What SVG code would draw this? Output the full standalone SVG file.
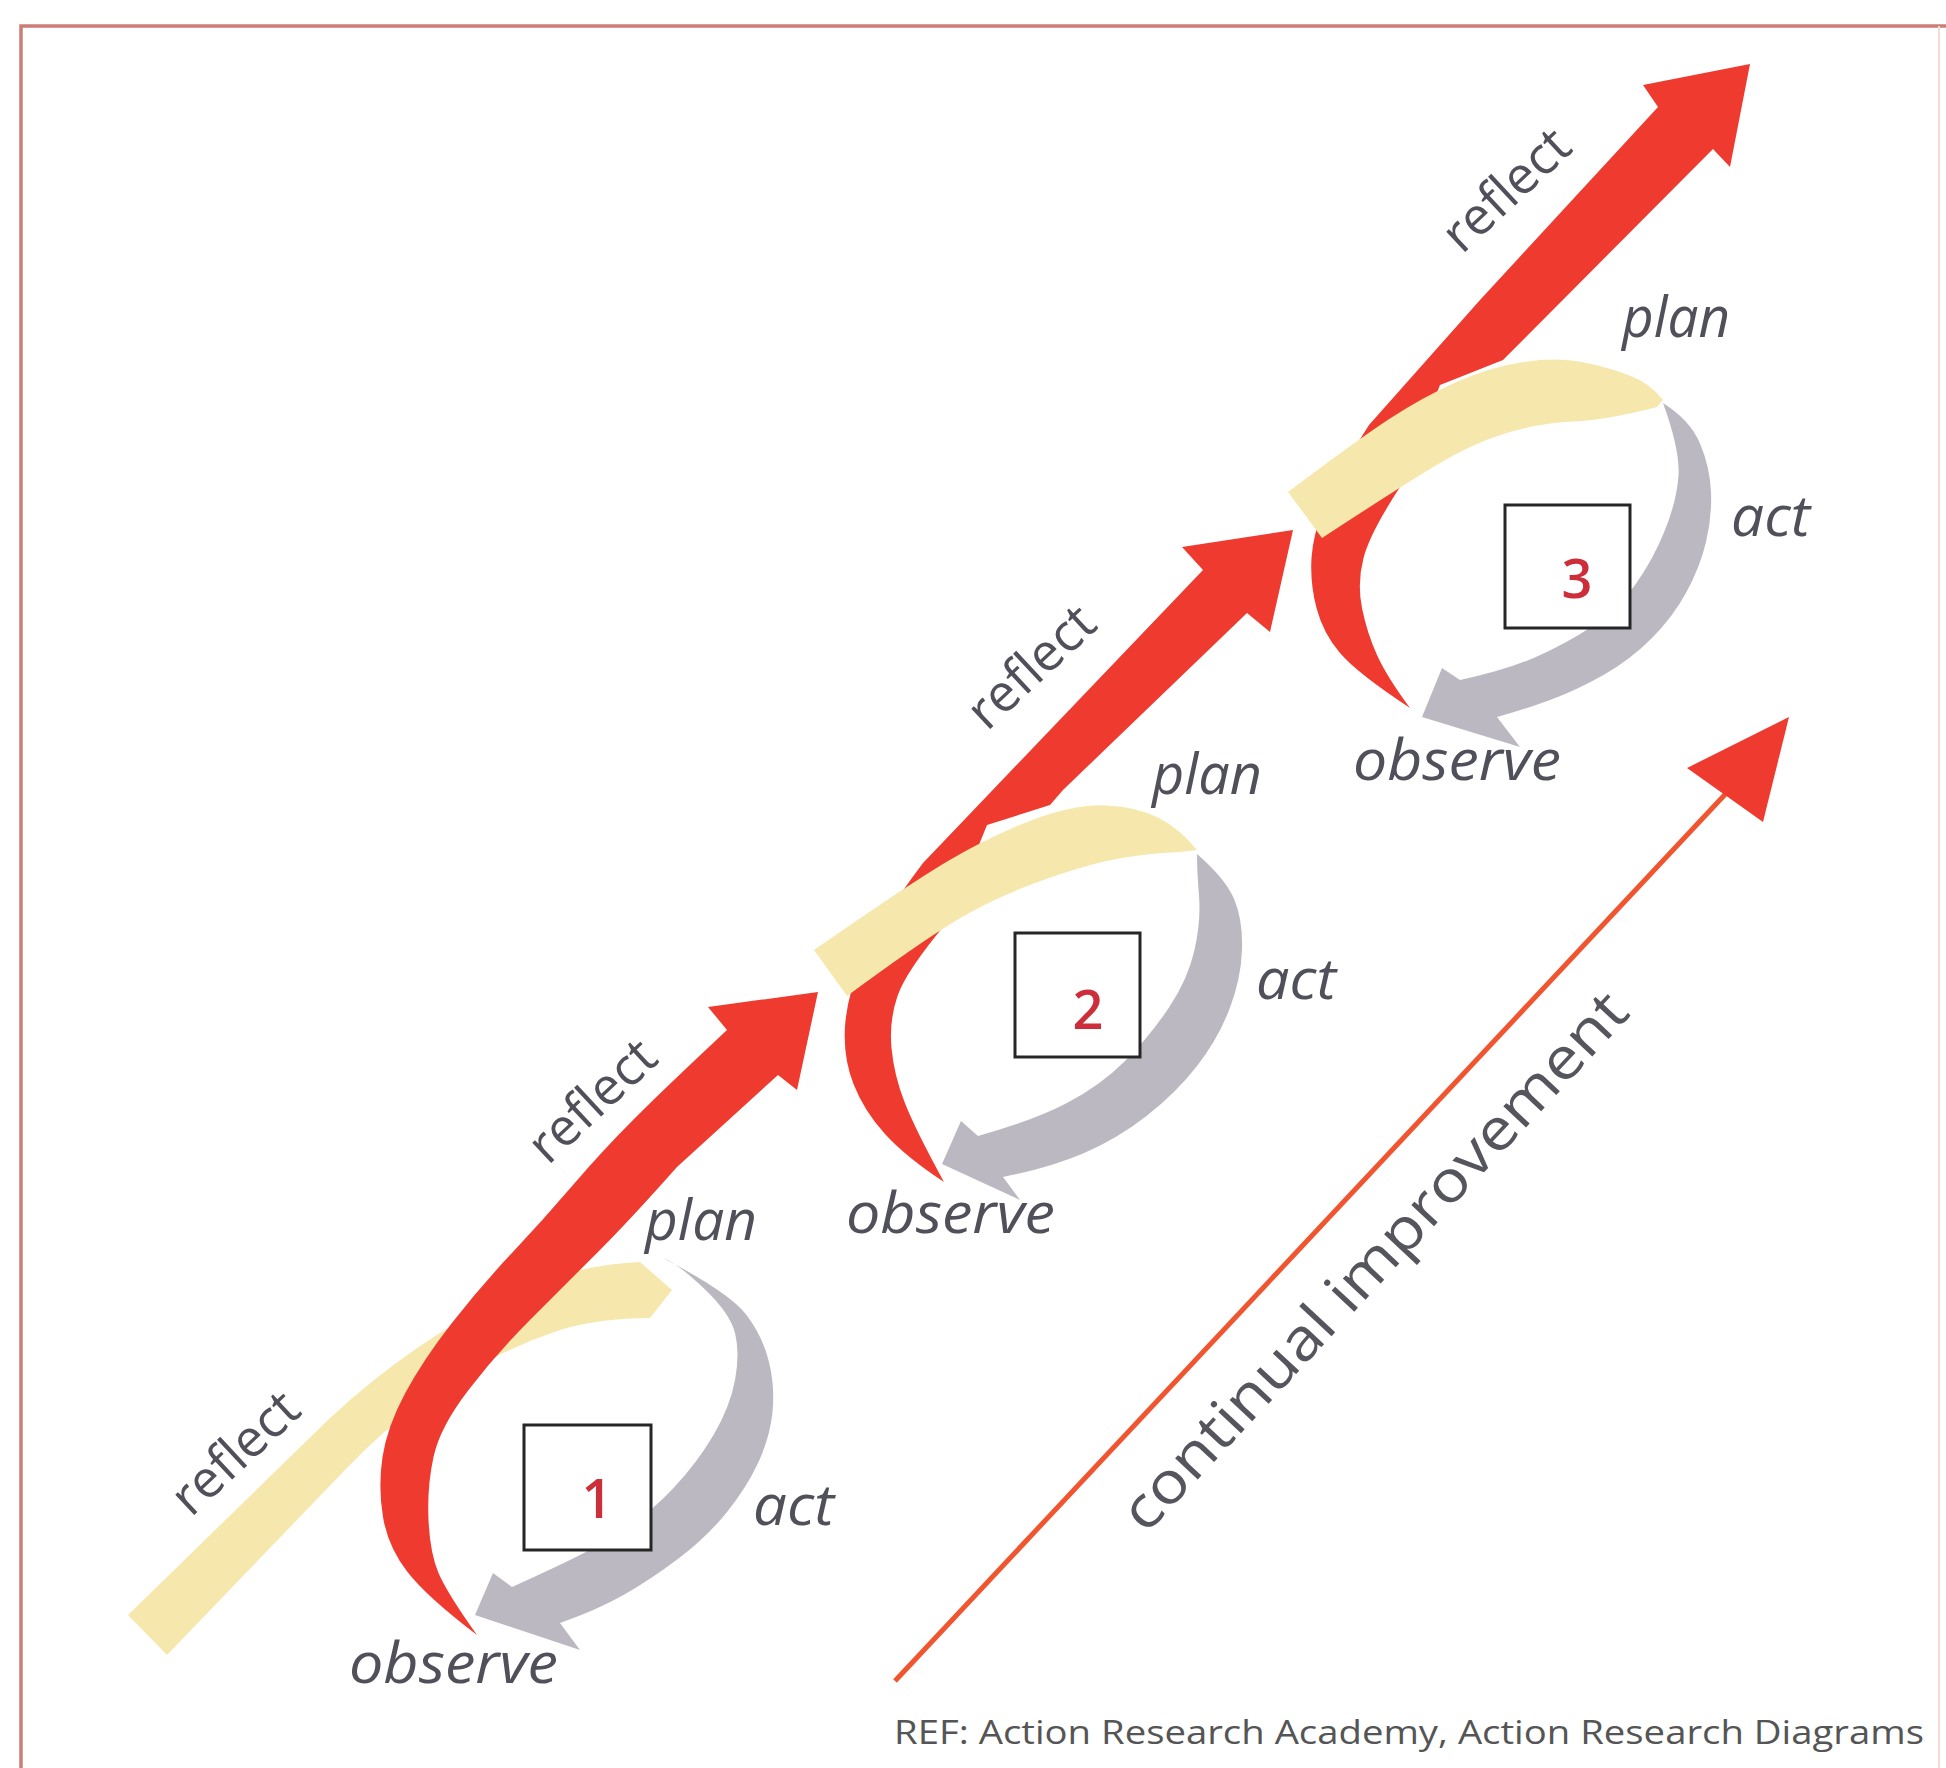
<svg xmlns="http://www.w3.org/2000/svg" width="1946" height="1768" viewBox="0 0 1946 1768">
<style>
.red{fill:#ef3b2f}
.yel{fill:#f6e8ad}
.gry{fill:#bcb8c2}
.box{fill:#ffffff;stroke:#262626;stroke-width:3}
.num{font-family:"Open Sans","Liberation Sans",sans-serif;font-size:54px;font-weight:600;fill:#cc2f3a;text-anchor:middle}
.lbl{font-family:"Open Sans","Liberation Sans",sans-serif;font-style:italic;font-size:57px;fill:#50505a}
.rfl{font-family:"Open Sans","Liberation Sans",sans-serif;font-size:52px;fill:#50505a}
.ci{font-family:"Open Sans","Liberation Sans",sans-serif;font-size:58px;fill:#55555d}
.ref{font-family:"Open Sans","Liberation Sans",sans-serif;font-size:33px;fill:#555555}
</style>
<rect width="1946" height="1768" fill="#ffffff"/>
<g id="frame" fill="none">
<path d="M21,1768 L21,26 L1946,26" stroke="#cd7d76" stroke-width="3.5"/>
<line x1="1939" y1="26" x2="1939" y2="1768" stroke="#f3dcd8" stroke-width="2"/>
</g>
<g id="connectors">
<path id="plan1" class="yel" d="M128,1615 L330,1418 Q420,1335 520,1290 Q575,1265 640,1262 L672,1290 L650,1318 Q600,1318 560,1330 Q440,1370 345,1470 L167,1655 Z"/>
<path id="reflect1" class="red" d="M477,1635 Q427,1597 407.5,1572 Q388,1547 383,1517 Q378,1487 382.5,1457 Q387,1427 405,1393.5 Q423,1360 451.5,1323.5 Q480,1287 511.5,1253.5 Q543,1220 573,1185 Q603,1150 634,1119 Q665,1088 727,1030 L708,1007 L818,992 L797,1090 L778,1075 L677,1167 Q630,1220 596.5,1253.5 Q563,1287 530,1320 Q497,1353 468.5,1390 Q440,1427 433.5,1457 Q427,1487 428.5,1520 Q430,1553 438.5,1573 Q447,1593 477,1635 Z"/>
<path id="reflect2" class="red" d="M944,1182 Q906,1157 885,1134 Q864,1111 853.5,1084 Q843,1057 845,1026.5 Q847,996 862,960 Q877,924 923,863 L1203,570 L1182,547 L1293,530 L1270,632 L1247,613 L1063,790 L1050,805 L987,825 L948,921 Q906,971 897.5,996 Q889,1021 891.5,1048 Q894,1075 904.5,1102 Q915,1129 944,1182 Z"/>
<path id="plan2" class="yel" d="M814,950 Q906,886 948,861 Q990,836 1032.5,820 Q1075,804 1106.5,805.5 Q1138,807 1159,818 Q1180,829 1197,850 L1180,852 Q1138,854 1106.5,861 Q1075,868 1032.5,884 Q990,900 954.5,921.5 Q919,943 847,996 Z"/>
<path id="reflect3" class="red" d="M1410,708 Q1357,673 1340,653 Q1323,633 1316.5,608 Q1310,583 1311.5,558 Q1313,533 1326,502 Q1340,470 1369,425 L1480,300 L1658,107 L1643,85 L1750,64 L1730,167 L1713,149 L1503,360 L1440,385 L1400,487 Q1370,533 1363.5,558 Q1357,583 1362,608 Q1367,633 1377,655 Q1387,677 1410,708 Z"/>
<path id="plan3" class="yel" d="M1288,492 Q1357,440 1390,418.5 Q1423,397 1456.5,382 Q1490,367 1523.5,362 Q1557,357 1582,362 Q1607,367 1628.5,375 Q1650,383 1663,400 L1657,407 Q1607,420 1573.5,421.5 Q1540,423 1506.5,433 Q1473,443 1436.5,465 Q1400,487 1322,538 Z"/>
<path id="act1" class="gry" d="M663,1258 Q730,1293 746.5,1315 Q763,1337 769,1362 Q775,1387 772.5,1412 Q770,1437 758.5,1462 Q747,1487 727,1512 Q707,1537 678.5,1558.5 Q650,1580 623.5,1595 Q597,1610 560,1623 L580,1650 L475,1615 L493,1573 L512,1587 Q543,1573 570,1560 Q597,1547 623.5,1530 Q650,1513 673.5,1488 Q697,1463 713.5,1435 Q730,1407 735,1380 Q740,1353 735,1333 Q730,1313 703.5,1288 Q677,1263 663,1258 Z"/>
<path id="act2" class="gry" d="M1197,854 Q1226,879 1234.5,900 Q1243,921 1242,950 Q1241,979 1229.5,1009 Q1218,1039 1197,1066 Q1176,1093 1146.5,1116 Q1117,1139 1083,1153.5 Q1049,1168 1003,1177 L1020,1200 L942,1164 L961,1121 L978,1136 Q1032,1121 1066,1103.5 Q1100,1086 1125,1061 Q1150,1036 1169,1007.5 Q1188,979 1194.5,950 Q1201,921 1199,896 Q1197,871 1197,854 Z"/>
<path id="act3" class="gry" d="M1663,403 Q1690,420 1700,443.5 Q1710,467 1711,492 Q1712,517 1706,542 Q1700,567 1686.5,592 Q1673,617 1651.5,638.5 Q1630,660 1603.5,675 Q1577,690 1550,700 Q1523,710 1497,717 L1520,747 L1422,717 L1442,668 L1460,680 Q1507,670 1537,656.5 Q1567,643 1592,626.5 Q1617,610 1635,585 Q1653,560 1665,530 Q1677,500 1678.5,475 Q1680,450 1663,403 Z"/>
<g id="improvement">
<line x1="895" y1="1681" x2="1732" y2="787" stroke="#f0552f" stroke-width="5"/>
<polygon points="1789,717 1763,822 1687,768" fill="#ef3b2f"/>
</g>
</g>
<g id="node-1"><rect class="box" x="524" y="1425" width="127" height="125"/><text class="num" x="597" y="1518">1</text></g>
<g id="node-2"><rect class="box" x="1015" y="933" width="125" height="124"/><text class="num" x="1088" y="1029">2</text></g>
<g id="node-3"><rect class="box" x="1505" y="505" width="125" height="123"/><text class="num" x="1577" y="598">3</text></g>
<g id="labels">
<text class="rfl" transform="translate(191,1518) rotate(-43)">reflect</text>
<text class="rfl" transform="translate(548,1166) rotate(-43)">reflect</text>
<text class="rfl" transform="translate(987,732) rotate(-43)">reflect</text>
<text class="rfl" transform="translate(1462,255) rotate(-43)">reflect</text>
<text class="lbl" x="645" y="1240" textLength="112" lengthAdjust="spacingAndGlyphs">plan</text>
<text class="lbl" x="1152" y="794" textLength="110" lengthAdjust="spacingAndGlyphs">plan</text>
<text class="lbl" x="1622" y="337" textLength="108" lengthAdjust="spacingAndGlyphs">plan</text>
<text class="lbl" x="753" y="1525" textLength="81" lengthAdjust="spacingAndGlyphs">act</text>
<text class="lbl" x="1256" y="999" textLength="80" lengthAdjust="spacingAndGlyphs">act</text>
<text class="lbl" x="1731" y="536" textLength="79" lengthAdjust="spacingAndGlyphs">act</text>
<text class="lbl" x="349" y="1683" textLength="209" lengthAdjust="spacingAndGlyphs">observe</text>
<text class="lbl" x="846" y="1233" textLength="209" lengthAdjust="spacingAndGlyphs">observe</text>
<text class="lbl" x="1353" y="780" textLength="208" lengthAdjust="spacingAndGlyphs">observe</text>
<text class="ci" transform="translate(1146,1535) rotate(-47)" textLength="712" lengthAdjust="spacingAndGlyphs">continual improvement</text>
<text class="ref" x="894" y="1744" textLength="1030" lengthAdjust="spacingAndGlyphs">REF: Action Research Academy, Action Research Diagrams</text>
</g>
</svg>
